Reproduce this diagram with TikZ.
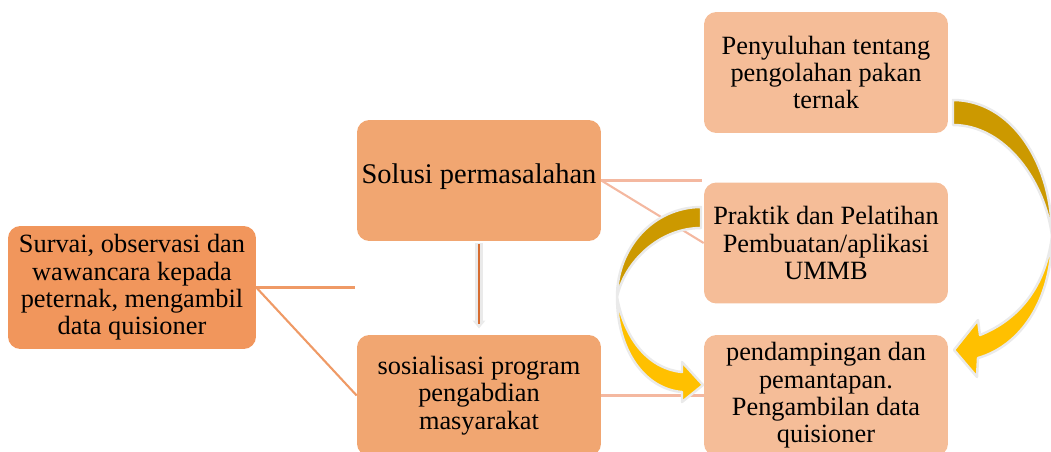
\documentclass[tikz,border=0pt]{standalone}
\usepackage{fontspec}
\setmainfont{Liberation Serif}
\usetikzlibrary{positioning, arrows.meta}
\definecolor{boxDark}{RGB}{241,150,92}
\definecolor{boxMid}{RGB}{241,166,113}
\definecolor{boxLight}{RGB}{245,189,152}
\definecolor{lineDark}{RGB}{239,154,102}
\definecolor{lineLight}{RGB}{244,184,160}
\definecolor{goldDark}{RGB}{204,153,0}
\definecolor{goldLight}{RGB}{255,192,0}
\definecolor{edgeGray}{RGB}{234,234,234}
\definecolor{stemOrange}{RGB}{214,108,48}

\begin{document}
\begin{tikzpicture}[x=0.02cm, y=0.02cm,
  box/.style={rounded corners=7pt, minimum width=4.88cm, minimum height=2.42cm,
              align=center, inner sep=2pt, font=\fontsize{15}{15.5}\selectfont},
  link/.style={line width=1.2pt},
  bendarrow/.style={draw=edgeGray, line width=1.4pt, line join=round},
]
  \useasboundingbox (0,0) rectangle (1051,451);
  \clip (0,0) rectangle (1051,451);

  % boxes
  \node[box, fill=boxDark, minimum width=4.96cm, minimum height=2.46cm] (survei) at (132,163.5)
    {Survai, observasi dan\\wawancara kepada\\peternak, mengambil\\data quisioner};
  \node[box, fill=boxMid, font=\fontsize{16.2}{17}\selectfont,
        text depth=8pt] (solusi) at (479,270.5) {Solusi permasalahan};
  \node[box, fill=boxMid] (sosial) at (479,55.5)
    {sosialisasi program\\pengabdian\\masyarakat};
  \node[box, fill=boxLight] (penyuluhan) at (826,378.5)
    {Penyuluhan tentang\\pengolahan pakan\\ternak};
  \node[box, fill=boxLight] (praktik) at (826,208)
    {Praktik dan Pelatihan\\Pembuatan/aplikasi\\UMMB};
  \node[box, fill=boxLight] (pendamping) at (826,55.5)
    {pendampingan dan\\pemantapan.\\Pengambilan data\\quisioner};

  % connectors
  \coordinate (surveiEnd) at (355,163.5);
  \coordinate (solusiEnd) at (702,270.5);
  \draw[link, lineDark] (survei.east) -- (surveiEnd);
  \draw[link, lineDark] (survei.east) -- (sosial.west);
  \draw[link, lineLight] (solusi.east) -- (solusiEnd);
  \draw[link, lineLight] (solusi.east) -- (praktik.west);
  \draw[link, lineLight] (sosial.east) -- (pendamping.west);

  % down arrow
  \draw[edgeGray, line width=4pt, -{Triangle[width=7pt,length=4.5pt]},
        shorten <=1pt, shorten >=3.5pt] (solusi) -- (sosial);
  \draw[stemOrange, line width=1.4pt, shorten <=1.5pt, shorten >=6pt] (solusi) -- (sosial);

  % curved arrow right
  \filldraw[bendarrow, fill=goldDark] (953,351) .. controls (1010,351) and (1052,290) .. (1052,215)
    .. controls (1045,270) and (1005,326) .. (953,326) -- cycle;
  \filldraw[bendarrow, fill=goldLight] (1052,215) .. controls (1052,150) and (1020,105) .. (978,93)
    -- (977,74) -- (954,101) -- (978,131) -- (980,116)
    .. controls (1015,130) and (1045,160) .. (1052,215) -- cycle;

  % curved arrow left
  \filldraw[bendarrow, fill=goldDark] (701,244) .. controls (655,244) and (617,205) .. (617,154)
    .. controls (625,190) and (660,223) .. (701,223) -- cycle;
  \filldraw[bendarrow, fill=goldLight] (617,154) .. controls (617,100) and (645,62) .. (682,59)
    -- (682,49) -- (703,66) -- (682,89) -- (682,79)
    .. controls (650,82) and (625,110) .. (617,154) -- cycle;
\end{tikzpicture}
\end{document}
